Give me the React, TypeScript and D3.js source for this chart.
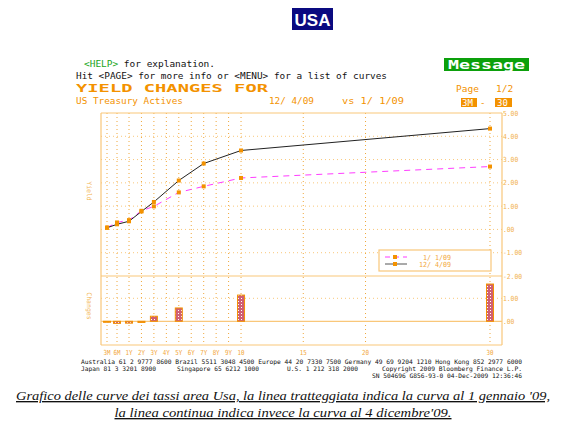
import React from "react";
import * as d3 from "d3";

const tenorLabels = ["3M", "6M", "1Y", "2Y", "3Y", "4Y", "5Y", "6Y", "7Y", "8Y", "9Y", "10", "15", "20", "30"];
const tenorYears = [0.25, 0.5, 1, 2, 3, 4, 5, 6, 7, 8, 9, 10, 15, 20, 30];

const curveYears = [0.25, 0.5, 1, 2, 3, 5, 7, 10, 30];
const dec09 = [0.07, 0.22, 0.35, 0.77, 1.18, 2.1, 2.83, 3.39, 4.33];
const jan09 = [0.08, 0.3, 0.4, 0.8, 0.99, 1.59, 1.85, 2.21, 2.7];

const barYears = [0.25, 0.5, 1, 2, 3, 5, 10, 30];
const barValues = [-0.01, -0.09, -0.08, -0.05, 0.22, 0.58, 1.14, 1.62];

const yTicks = [5, 4, 3, 2, 1, 0, -1, -2];
const yTickLabels = ["5.00", "4.00", "3.00", "2.00", "1.00", ".00", "-1.00", "-2.00"];
const barTicks = [1, 0];
const barTickLabels = ["1.00", ".00"];

const footer1 = "Australia 61 2 9777 8600 Brazil 5511 3048 4500 Europe 44 20 7330 7500 Germany 49 69 9204 1210 Hong Kong 852 2977 6000";

const ORANGE = "#f39200";
const LIGHT = "#f9c77a";
const GRID = "#f0a83c";
const MONO = "'DejaVu Sans Mono', 'Liberation Mono', monospace";

export default function App() {
  const x = d3.scaleLinear().domain([0.25, 0.5, 1, 30]).range([107, 117, 129, 490]);
  const y = d3.scaleLinear().domain([-2, 5]).range([276, 113]);
  const yb = d3.scaleLinear().domain([0, 1]).range([321.3, 298.3]);
  const left = 101, right = 502, top = 113, mid = 276, bottom = 345;

  const line = d3.line<number>().x((_, i) => x(curveYears[i])).y((v) => y(v));
  const decPts = dec09.map((v, i) => [x(curveYears[i]), y(v)]);
  const janPts = jan09.map((v, i) => [x(curveYears[i]), y(v)]);

  return (
    <svg width={563} height={432} style={{ position: "absolute", left: 0, top: 0, background: "#fff" }}>
      <defs>
        <pattern id="dots" width="3" height="3" patternUnits="userSpaceOnUse">
          <rect width="3" height="3" fill="#cf5f74" />
          <rect x="1" y="1" width="1" height="1" fill="#fff" />
        </pattern>
      </defs>

      {/* Title USA */}
      <rect x={292} y={8} width={41} height={22} fill="#0a0a80" />
      <text x={312.5} y={26} textAnchor="middle" fill="#fff" fontFamily="'Liberation Sans', Arial, sans-serif" fontWeight="bold" fontSize={17}>USA</text>

      {/* Header */}
      <text x={84} y={67} fontFamily={MONO} fontSize={9.5} textLength={131} lengthAdjust="spacingAndGlyphs">
        <tspan fill="#1aa51a">&lt;HELP&gt;</tspan><tspan fill="#111"> for explanation.</tspan>
      </text>
      <text x={76} y={79} fontFamily={MONO} fontSize={9.5} fill="#111" textLength={311} lengthAdjust="spacingAndGlyphs">Hit &lt;PAGE&gt; for more info or &lt;MENU&gt; for a list of curves</text>
      <text x={76} y={92} fontFamily={MONO} fontSize={11} fontWeight="bold" fill={ORANGE} textLength={192} lengthAdjust="spacingAndGlyphs">YIELD CHANGES FOR</text>
      <text x={76} y={104} fontFamily={MONO} fontSize={9.5} fill={ORANGE} textLength={107} lengthAdjust="spacingAndGlyphs">US Treasury Actives</text>
      <text x={269} y={104} fontFamily={MONO} fontSize={9.5} fill={ORANGE} textLength={45} lengthAdjust="spacingAndGlyphs">12/ 4/09</text>
      <text x={342} y={104} fontFamily={MONO} fontSize={9.5} fill={ORANGE} textLength={62} lengthAdjust="spacingAndGlyphs">vs  1/ 1/09</text>

      <rect x={444} y={58} width={85} height={13} fill="#0ca00c" />
      <text x={486.5} y={69} textAnchor="middle" fontFamily={MONO} fontWeight="bold" fontSize={12} fill="#fff" textLength={77} lengthAdjust="spacingAndGlyphs">Message</text>
      <text x={456} y={92} fontFamily={MONO} fontSize={9.5} fill={ORANGE}>Page</text>
      <text x={496} y={92} fontFamily={MONO} fontSize={9.5} fill={ORANGE}>1/2</text>
      <rect x={461} y={98} width={16} height={9} fill={ORANGE} />
      <text x={462} y={106} fontFamily={MONO} fontSize={9} fill="#fff">3M</text>
      <text x={480} y={106} fontFamily={MONO} fontSize={9} fill={ORANGE}>-</text>
      <rect x={495} y={98} width={17} height={9} fill={ORANGE} />
      <text x={497} y={106} fontFamily={MONO} fontSize={9} fill="#fff">30</text>

      {/* Horizontal grid top panel */}
      {yTicks.filter((t) => t > -2 && t < 5).map((t) => (
        <line key={"hg" + t} x1={left} x2={right} y1={y(t)} y2={y(t)} stroke={LIGHT} strokeDasharray="1,3" />
      ))}
      <line x1={left} x2={right} y1={yb(1)} y2={yb(1)} stroke={LIGHT} strokeDasharray="1,3" />

      {/* Vertical grid */}
      {tenorYears.map((t) => (
        <line key={"vg" + t} x1={x(t)} x2={x(t)} y1={top} y2={bottom} stroke={GRID} strokeDasharray="1,3" />
      ))}

      {/* Frame */}
      <line x1={left} x2={right} y1={top} y2={top} stroke={LIGHT} strokeWidth={1.2} />
      <line x1={left} x2={right} y1={mid} y2={mid} stroke={LIGHT} strokeWidth={1.2} />
      <line x1={left} x2={right} y1={bottom} y2={bottom} stroke={LIGHT} strokeWidth={1.2} />
      <line x1={left} x2={left} y1={top} y2={bottom} stroke={LIGHT} strokeWidth={1.2} />
      <line x1={right} x2={right} y1={top} y2={bottom} stroke={LIGHT} strokeWidth={1.2} />
      <line x1={left} x2={right} y1={yb(0)} y2={yb(0)} stroke={LIGHT} strokeWidth={1.2} />

      {/* Right axis labels */}
      {yTicks.map((t, i) => (
        <text key={"yl" + t} x={503} y={y(t) + 2.5} fontFamily={MONO} fontSize={7} fill="#f2b24e" textLength={yTickLabels[i].length * 3.8} lengthAdjust="spacingAndGlyphs">{yTickLabels[i]}</text>
      ))}
      {barTicks.map((t, i) => (
        <text key={"bl" + t} x={503} y={yb(t) + 2.5} fontFamily={MONO} fontSize={7} fill="#f2b24e" textLength={barTickLabels[i].length * 3.8} lengthAdjust="spacingAndGlyphs">{barTickLabels[i]}</text>
      ))}

      {/* Tenor labels */}
      {tenorLabels.map((l, i) => (
        <text key={"tl" + l} x={x(tenorYears[i])} y={355} textAnchor="middle" fontFamily={MONO} fontSize={7} fill="#f2a73c" textLength={7} lengthAdjust="spacingAndGlyphs">{l}</text>
      ))}

      {/* Axis titles */}
      <text transform={`translate(87,191) rotate(90)`} textAnchor="middle" fontFamily={MONO} fontSize={6.5} fill="#f2b24e">Yield</text>
      <text transform={`translate(87,306) rotate(90)`} textAnchor="middle" fontFamily={MONO} fontSize={6.5} fill="#f2b24e">Changes</text>

      {/* Curves */}
      <path d={line(jan09) || ""} fill="none" stroke="#ff3cff" strokeWidth={1} strokeDasharray="6,5" />
      <path d={line(dec09) || ""} fill="none" stroke="#222" strokeWidth={1} />
      {janPts.map(([px, py], i) => (
        <rect key={"jm" + i} x={px - 2} y={py - 2} width={4} height={4} fill={ORANGE} />
      ))}
      {decPts.map(([px, py], i) => (
        <rect key={"dm" + i} x={px - 2} y={py - 2} width={4} height={4} fill={ORANGE} />
      ))}

      {/* Bars */}
      {barValues.map((v, i) => {
        const bx = x(barYears[i]);
        const y0 = yb(0), y1 = yb(v);
        return (
          <rect key={"b" + i} x={bx - 3.5} y={Math.min(y0, y1)} width={7} height={Math.max(1, Math.abs(y1 - y0))} fill="url(#dots)" stroke={ORANGE} strokeWidth={1} />
        );
      })}

      {/* Legend */}
      <rect x={379} y={250} width={112} height={21} fill="#fff" stroke={LIGHT} strokeWidth={1.2} />
      <line x1={385} x2={407} y1={257} y2={257} stroke="#ff3cff" strokeDasharray="5,4" />
      <rect x={393} y={255} width={4} height={4} fill={ORANGE} />
      <text x={423} y={259.5} fontFamily={MONO} fontSize={7} fill="#f2a73c" textLength={28} lengthAdjust="spacingAndGlyphs">1/ 1/09</text>
      <line x1={385} x2={407} y1={264} y2={264} stroke="#555" />
      <rect x={393} y={262} width={4} height={4} fill={ORANGE} />
      <text x={419} y={266.5} fontFamily={MONO} fontSize={7} fill="#f2a73c" textLength={32} lengthAdjust="spacingAndGlyphs">12/ 4/09</text>

      {/* Footer */}
      <text x={81} y={364} fontFamily={MONO} fontSize={6.2} fill="#111" textLength={441} lengthAdjust="spacingAndGlyphs">{footer1}</text>
      <text x={81} y={371} fontFamily={MONO} fontSize={6.2} fill="#111" textLength={75} lengthAdjust="spacingAndGlyphs">Japan 81 3 3201 8900</text>
      <text x={177} y={371} fontFamily={MONO} fontSize={6.2} fill="#111" textLength={82} lengthAdjust="spacingAndGlyphs">Singapore 65 6212 1000</text>
      <text x={287} y={371} fontFamily={MONO} fontSize={6.2} fill="#111" textLength={71} lengthAdjust="spacingAndGlyphs">U.S. 1 212 318 2000</text>
      <text x={382} y={371} fontFamily={MONO} fontSize={6.2} fill="#111" textLength={140} lengthAdjust="spacingAndGlyphs">Copyright 2009 Bloomberg Finance L.P.</text>
      <text x={372} y={378} fontFamily={MONO} fontSize={6.2} fill="#111" textLength={150} lengthAdjust="spacingAndGlyphs">SN 504696 G856-93-0 04-Dec-2009 12:36:46</text>

      {/* Caption */}
      <text x={283} y={400} textAnchor="middle" fontFamily="'Liberation Serif', 'Times New Roman', serif" fontStyle="italic" fontSize={13.5} fill="#111" textDecoration="underline" textLength={534} lengthAdjust="spacingAndGlyphs">Grafico delle curve dei tassi area Usa, la linea tratteggiata indica la curva al 1 gennaio '09,</text>
      <text x={283} y={417} textAnchor="middle" fontFamily="'Liberation Serif', 'Times New Roman', serif" fontStyle="italic" fontSize={13.5} fill="#111" textDecoration="underline" textLength={337} lengthAdjust="spacingAndGlyphs">la linea continua indica invece la curva al 4 dicembre'09.</text>
    </svg>
  );
}
